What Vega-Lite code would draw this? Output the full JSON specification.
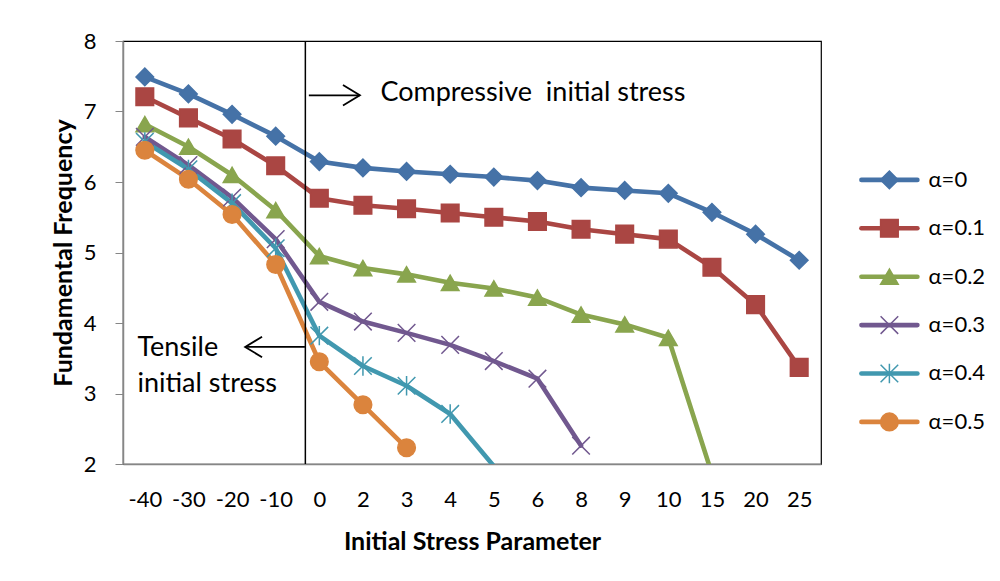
{
  "$schema": "https://vega.github.io/schema/vega-lite/v6.json",
  "padding": {"left": 50, "top": 29, "right": 5, "bottom": 5},
  "spacing": 31,
  "config": {
    "font": "Lato",
    "view": {"stroke": "black", "strokeWidth": 1.2},
    "axis": {"grid": false, "labelColor": "black", "titleColor": "black", "domainColor": "#868686", "tickColor": "#868686", "domainWidth": 1.5, "labelFontSize": 22, "titleFontSize": 25, "titleFontWeight": "bold", "labelFont": "Lato", "titleFont": "Lato"}
  },
  "datasets": {
    "freq": [
      {"stress": -40, "series": "α=0", "f": 7.49},
      {"stress": -30, "series": "α=0", "f": 7.25},
      {"stress": -20, "series": "α=0", "f": 6.96},
      {"stress": -10, "series": "α=0", "f": 6.65},
      {"stress": 0, "series": "α=0", "f": 6.29},
      {"stress": 2, "series": "α=0", "f": 6.20},
      {"stress": 3, "series": "α=0", "f": 6.15},
      {"stress": 4, "series": "α=0", "f": 6.11},
      {"stress": 5, "series": "α=0", "f": 6.07},
      {"stress": 6, "series": "α=0", "f": 6.02},
      {"stress": 8, "series": "α=0", "f": 5.92},
      {"stress": 9, "series": "α=0", "f": 5.88},
      {"stress": 10, "series": "α=0", "f": 5.84},
      {"stress": 15, "series": "α=0", "f": 5.57},
      {"stress": 20, "series": "α=0", "f": 5.26},
      {"stress": 25, "series": "α=0", "f": 4.89},
      {"stress": -40, "series": "α=0.1", "f": 7.21},
      {"stress": -30, "series": "α=0.1", "f": 6.91},
      {"stress": -20, "series": "α=0.1", "f": 6.61},
      {"stress": -10, "series": "α=0.1", "f": 6.23},
      {"stress": 0, "series": "α=0.1", "f": 5.77},
      {"stress": 2, "series": "α=0.1", "f": 5.67},
      {"stress": 3, "series": "α=0.1", "f": 5.62},
      {"stress": 4, "series": "α=0.1", "f": 5.56},
      {"stress": 5, "series": "α=0.1", "f": 5.50},
      {"stress": 6, "series": "α=0.1", "f": 5.44},
      {"stress": 8, "series": "α=0.1", "f": 5.33},
      {"stress": 9, "series": "α=0.1", "f": 5.26},
      {"stress": 10, "series": "α=0.1", "f": 5.19},
      {"stress": 15, "series": "α=0.1", "f": 4.79},
      {"stress": 20, "series": "α=0.1", "f": 4.26},
      {"stress": 25, "series": "α=0.1", "f": 3.37},
      {"stress": -40, "series": "α=0.2", "f": 6.82},
      {"stress": -30, "series": "α=0.2", "f": 6.50},
      {"stress": -20, "series": "α=0.2", "f": 6.10},
      {"stress": -10, "series": "α=0.2", "f": 5.60},
      {"stress": 0, "series": "α=0.2", "f": 4.95},
      {"stress": 2, "series": "α=0.2", "f": 4.78},
      {"stress": 3, "series": "α=0.2", "f": 4.69},
      {"stress": 4, "series": "α=0.2", "f": 4.57},
      {"stress": 5, "series": "α=0.2", "f": 4.49},
      {"stress": 6, "series": "α=0.2", "f": 4.36},
      {"stress": 8, "series": "α=0.2", "f": 4.12},
      {"stress": 9, "series": "α=0.2", "f": 3.98},
      {"stress": 10, "series": "α=0.2", "f": 3.79},
      {"stress": 15, "series": "α=0.2", "f": 1.86},
      {"stress": -40, "series": "α=0.3", "f": 6.64},
      {"stress": -30, "series": "α=0.3", "f": 6.24},
      {"stress": -20, "series": "α=0.3", "f": 5.78},
      {"stress": -10, "series": "α=0.3", "f": 5.19},
      {"stress": 0, "series": "α=0.3", "f": 4.30},
      {"stress": 2, "series": "α=0.3", "f": 4.02},
      {"stress": 3, "series": "α=0.3", "f": 3.86},
      {"stress": 4, "series": "α=0.3", "f": 3.69},
      {"stress": 5, "series": "α=0.3", "f": 3.46},
      {"stress": 6, "series": "α=0.3", "f": 3.21},
      {"stress": 8, "series": "α=0.3", "f": 2.26},
      {"stress": -40, "series": "α=0.4", "f": 6.57},
      {"stress": -30, "series": "α=0.4", "f": 6.18},
      {"stress": -20, "series": "α=0.4", "f": 5.70},
      {"stress": -10, "series": "α=0.4", "f": 5.06},
      {"stress": 0, "series": "α=0.4", "f": 3.82},
      {"stress": 2, "series": "α=0.4", "f": 3.39},
      {"stress": 3, "series": "α=0.4", "f": 3.11},
      {"stress": 4, "series": "α=0.4", "f": 2.71},
      {"stress": 5, "series": "α=0.4", "f": 1.97},
      {"stress": -40, "series": "α=0.5", "f": 6.45},
      {"stress": -30, "series": "α=0.5", "f": 6.04},
      {"stress": -20, "series": "α=0.5", "f": 5.54},
      {"stress": -10, "series": "α=0.5", "f": 4.83},
      {"stress": 0, "series": "α=0.5", "f": 3.45},
      {"stress": 2, "series": "α=0.5", "f": 2.84},
      {"stress": 3, "series": "α=0.5", "f": 2.23}
    ],
    "notes": [
      {"kind": "vline", "px": 4.18},
      {"kind": "arrow", "px": 4.26, "px2": 5.43, "py": 7.23},
      {"kind": "arrow", "px": 2.80, "px2": 4.17, "py": 3.66},
      {"kind": "head", "px": 5.43, "py": 7.23, "dir": "right"},
      {"kind": "head", "px": 2.80, "py": 3.66, "dir": "left"},
      {"kind": "label", "px": 5.9, "py": 7.26, "text": "Compressive\u00a0 initial stress"},
      {"kind": "label", "px": 0.33, "py": 3.65, "text": "Tensile"},
      {"kind": "label", "px": 0.33, "py": 3.14, "text": "initial stress"}
    ],
    "legend": [
      {"series": "α=0", "k": 0},
      {"series": "α=0.1", "k": 1},
      {"series": "α=0.2", "k": 2},
      {"series": "α=0.3", "k": 3},
      {"series": "α=0.4", "k": 4},
      {"series": "α=0.5", "k": 5}
    ]
  },
  "hconcat": [
    {
      "width": 698,
      "height": 423,
      "layer": [
        {
          "data": {"name": "freq"},
          "encoding": {
            "x": {"field": "stress", "type": "ordinal", "scale": {"type": "point", "padding": 0.5}, "axis": {"title": "Initial Stress Parameter", "labelAngle": 0, "ticks": false, "tickSize": 0, "labelPadding": 25, "titlePadding": 19}},
            "y": {"field": "f", "type": "quantitative", "scale": {"domain": [2, 8], "nice": false, "zero": false}, "axis": {"title": "Fundamental Frequency", "values": [2, 3, 4, 5, 6, 7, 8], "format": "d", "tickSize": 8, "labelPadding": 19, "titlePadding": 7}}
          },
          "layer": [
            {
              "mark": {"type": "line", "strokeWidth": 4.6, "strokeCap": "round", "strokeJoin": "round", "clip": true},
              "encoding": {
                "color": {"field": "series", "type": "nominal", "scale": {"domain": ["α=0", "α=0.1", "α=0.2", "α=0.3", "α=0.4", "α=0.5"], "range": ["#4572A7", "#AA4643", "#89A54E", "#71588F", "#4198AF", "#DB843D"]}, "legend": null}
              }
            },
            {
              "transform": [{"filter": "datum.f >= 2"}],
              "mark": {"type": "point", "filled": true, "opacity": 1, "strokeWidth": 1.5},
              "encoding": {
                "color": {"field": "series", "type": "nominal", "scale": {"domain": ["α=0", "α=0.1", "α=0.2", "α=0.3", "α=0.4", "α=0.5"], "range": ["#4572A7", "#AA4643", "#89A54E", "#71588F", "#4198AF", "#DB843D"]}, "legend": null},
                "stroke": {"field": "series", "type": "nominal", "scale": {"domain": ["α=0", "α=0.1", "α=0.2", "α=0.3", "α=0.4", "α=0.5"], "range": ["#4572A7", "#AA4643", "#89A54E", "#71588F", "#4198AF", "#DB843D"]}, "legend": null},
                "shape": {"field": "series", "type": "nominal", "scale": {"domain": ["α=0", "α=0.1", "α=0.2", "α=0.3", "α=0.4", "α=0.5"], "range": ["diamond", "square", "triangle-up", "M-1,-1L1,1M-1,1L1,-1", "M-1,-1L1,1M-1,1L1,-1M0,-1.1L0,1.1", "circle"]}, "legend": null},
                "size": {"value": 310}
              }
            }
          ]
        },
        {
          "data": {"name": "notes"},
          "layer": [
            {
              "transform": [{"filter": "datum.kind === 'vline'"}],
              "mark": {"type": "rule", "color": "black", "strokeWidth": 1.5},
              "encoding": {
                "x": {"field": "px", "type": "quantitative", "scale": {"domain": [0, 16], "nice": false, "zero": false}, "axis": null}
              }
            },
            {
              "transform": [{"filter": "datum.kind === 'arrow'"}],
              "mark": {"type": "rule", "color": "black", "strokeWidth": 1.8},
              "encoding": {
                "x": {"field": "px", "type": "quantitative", "scale": {"domain": [0, 16], "nice": false, "zero": false}, "axis": null},
                "x2": {"field": "px2"},
                "y": {"field": "py", "type": "quantitative"}
              }
            },
            {
              "transform": [{"filter": "datum.kind === 'head'"}],
              "mark": {"type": "point", "filled": false, "opacity": 1, "color": "black", "strokeWidth": 1.8},
              "encoding": {
                "x": {"field": "px", "type": "quantitative", "scale": {"domain": [0, 16], "nice": false, "zero": false}, "axis": null},
                "y": {"field": "py", "type": "quantitative"},
                "shape": {"field": "dir", "type": "nominal", "scale": {"domain": ["right", "left"], "range": ["M-1.65,-1L0,0L-1.65,1", "M1.65,-1L0,0L1.65,1"]}, "legend": null},
                "size": {"value": 420}
              }
            },
            {
              "transform": [{"filter": "datum.kind === 'label'"}],
              "mark": {"type": "text", "align": "left", "baseline": "middle", "fontSize": 27, "color": "black"},
              "encoding": {
                "x": {"field": "px", "type": "quantitative", "scale": {"domain": [0, 16], "nice": false, "zero": false}, "axis": null},
                "y": {"field": "py", "type": "quantitative"},
                "text": {"field": "text"}
              }
            }
          ]
        }
      ],
      "resolve": {"scale": {"x": "independent", "shape": "independent"}, "axis": {"x": "independent"}}
    },
    {
      "width": 140,
      "height": 423,
      "view": {"stroke": null},
      "data": {"name": "legend"},
      "encoding": {
        "y": {"field": "k", "type": "quantitative", "scale": {"domain": [-2.87, 5.87], "reverse": true, "nice": false, "zero": false}, "axis": null}
      },
      "layer": [
        {
          "mark": {"type": "rule", "strokeWidth": 4.6, "strokeCap": "round"},
          "encoding": {
            "x": {"datum": 0.6, "type": "quantitative", "scale": {"domain": [0, 10], "nice": false}, "axis": null},
            "x2": {"datum": 4.6},
            "color": {"field": "series", "type": "nominal", "scale": {"domain": ["α=0", "α=0.1", "α=0.2", "α=0.3", "α=0.4", "α=0.5"], "range": ["#4572A7", "#AA4643", "#89A54E", "#71588F", "#4198AF", "#DB843D"]}, "legend": null}
          }
        },
        {
          "mark": {"type": "point", "filled": true, "opacity": 1, "strokeWidth": 1.5},
          "encoding": {
            "x": {"datum": 2.6, "type": "quantitative"},
            "color": {"field": "series", "type": "nominal", "legend": null},
            "stroke": {"field": "series", "type": "nominal", "scale": {"domain": ["α=0", "α=0.1", "α=0.2", "α=0.3", "α=0.4", "α=0.5"], "range": ["#4572A7", "#AA4643", "#89A54E", "#71588F", "#4198AF", "#DB843D"]}, "legend": null},
            "shape": {"field": "series", "type": "nominal", "scale": {"domain": ["α=0", "α=0.1", "α=0.2", "α=0.3", "α=0.4", "α=0.5"], "range": ["diamond", "square", "triangle-up", "M-1,-1L1,1M-1,1L1,-1", "M-1,-1L1,1M-1,1L1,-1M0,-1.1L0,1.1", "circle"]}, "legend": null},
            "size": {"value": 310}
          }
        },
        {
          "mark": {"type": "text", "align": "left", "baseline": "middle", "fontSize": 22, "color": "black"},
          "encoding": {
            "x": {"datum": 5.4, "type": "quantitative"},
            "text": {"field": "series"}
          }
        }
      ]
    }
  ]
}
